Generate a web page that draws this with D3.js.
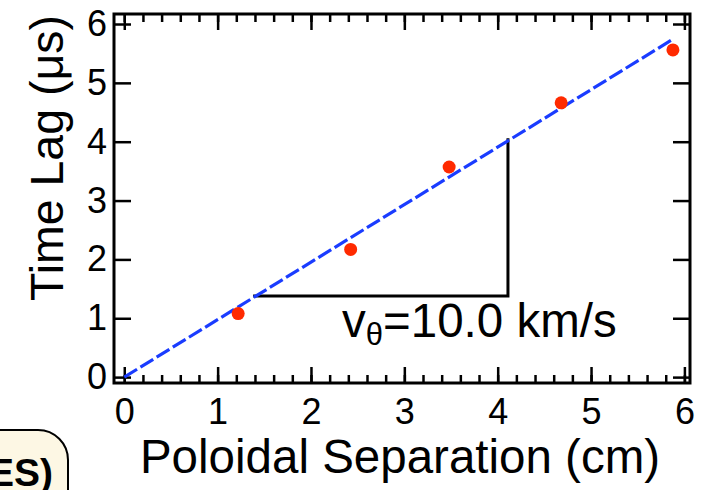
<!DOCTYPE html>
<html>
<head>
<meta charset="utf-8">
<script src="https://cdn.jsdelivr.net/npm/d3@7"></script>
<style>
html,body{margin:0;padding:0;background:#fff;}
svg{display:block;font-family:"Liberation Sans",Arial,Helvetica,sans-serif;}
</style>
</head>
<body>
<svg id="chart" width="709" height="490"></svg>
<script>
// ---- data ----
const separation = [1.22, 2.425, 3.48, 4.68, 5.877];   // cm
const timeLag    = [1.08, 2.17, 3.57, 4.66, 5.56];     // us
const fitX = [0, 5.855];
const fitY = [0, 5.72];
const triX = [1.38, 4.11, 4.11];
const triY = [1.38, 1.38, 4.06];
const xTicks = [0, 1, 2, 3, 4, 5, 6];
const yTicks = [0, 1, 2, 3, 4, 5, 6];
const xMinor = d3.range(0, 31).map(i => i / 5);
const xLabel = "Poloidal Separation (cm)";
const yLabel = "Time Lag (\u03bcs)";

const svg = d3.select("#chart");
const L = 114, R = 690, T = 14, B = 383;
const x = d3.scaleLinear().domain([-0.11, 6.06]).range([L, R]);
const y = d3.scaleLinear().domain([-0.10, 6.17]).range([B, T]);

// corner box "ES)"
svg.append("rect").attr("x", -60).attr("y", 430).attr("width", 128).attr("height", 100)
  .attr("rx", 30).attr("ry", 30).attr("fill", "#fdf7e4").attr("stroke", "#000").attr("stroke-width", 2);
svg.append("text").attr("x", 53).attr("y", 486).attr("text-anchor", "end")
  .attr("font-size", 39).attr("font-weight", "bold").text("ES)");

// axes ticks
function styleAxis(g, w) {
  g.select(".domain").remove();
  g.selectAll(".tick line").attr("stroke", "#000").attr("stroke-width", w);
}
const tickFont = 36;
// minor x ticks
svg.append("g").attr("transform", `translate(0,${B})`)
  .call(d3.axisBottom(x).tickValues(xMinor).tickSize(-8).tickFormat(""))
  .call(g => styleAxis(g, 2.5));
svg.append("g").attr("transform", `translate(0,${T})`)
  .call(d3.axisTop(x).tickValues(xMinor).tickSize(-8).tickFormat(""))
  .call(g => styleAxis(g, 2.5));
// major x ticks
svg.append("g").attr("transform", `translate(0,${B})`)
  .call(d3.axisBottom(x).tickValues(xTicks).tickSize(-16).tickPadding(15).tickFormat(d3.format("d")))
  .call(g => { styleAxis(g, 2.5); g.selectAll("text").attr("font-size", tickFont).attr("fill", "#000").attr("font-family", null); });
svg.append("g").attr("transform", `translate(0,${T})`)
  .call(d3.axisTop(x).tickValues(xTicks).tickSize(-16).tickFormat(""))
  .call(g => styleAxis(g, 2.5));
// y ticks
svg.append("g").attr("transform", `translate(${L},0)`)
  .call(d3.axisLeft(y).tickValues(yTicks).tickSize(-17).tickPadding(7).tickFormat(d3.format("d")))
  .call(g => { styleAxis(g, 2.5); g.selectAll("text").attr("font-size", tickFont).attr("fill", "#000").attr("font-family", null); });
svg.append("g").attr("transform", `translate(${R},0)`)
  .call(d3.axisRight(y).tickValues(yTicks).tickSize(-17).tickFormat(""))
  .call(g => styleAxis(g, 2.5));

// frame
svg.append("rect").attr("x", L).attr("y", T).attr("width", R - L).attr("height", B - T)
  .attr("fill", "none").attr("stroke", "#000").attr("stroke-width", 3);

// triangle
const tri = triX.map((v, i) => [v, triY[i]]);
svg.append("path").attr("d", d3.line().x(d => x(d[0])).y(d => y(d[1]))(tri))
  .attr("fill", "none").attr("stroke", "#000").attr("stroke-width", 3);

// fit line
const fit = fitX.map((v, i) => [v, fitY[i]]);
svg.append("path").attr("d", d3.line().x(d => x(d[0])).y(d => y(d[1]))(fit))
  .attr("fill", "none").attr("stroke", "#1a3cff").attr("stroke-width", 3.2)
  .attr("stroke-dasharray", "15,4");

// points
svg.selectAll("circle.pt").data(separation).join("circle").attr("class", "pt")
  .attr("cx", d => x(d)).attr("cy", (d, i) => y(timeLag[i])).attr("r", 6.5)
  .attr("fill", "#ff2a00");

// annotation
const ann = svg.append("text").attr("x", 342).attr("y", 337).attr("font-size", 47.5);
ann.append("tspan").text("v");
ann.append("tspan").attr("font-size", 31).attr("dy", 8).text("\u03b8");
ann.append("tspan").attr("dy", -8).text("=10.0 km/s");

// axis titles
svg.append("text").attr("x", 400).attr("y", 473).attr("text-anchor", "middle")
  .attr("font-size", 47.5).text(xLabel);
svg.append("text").attr("transform", `translate(63,158) rotate(-90)`).attr("text-anchor", "middle")
  .attr("font-size", 46.5).text(yLabel);
</script>
</body>
</html>
